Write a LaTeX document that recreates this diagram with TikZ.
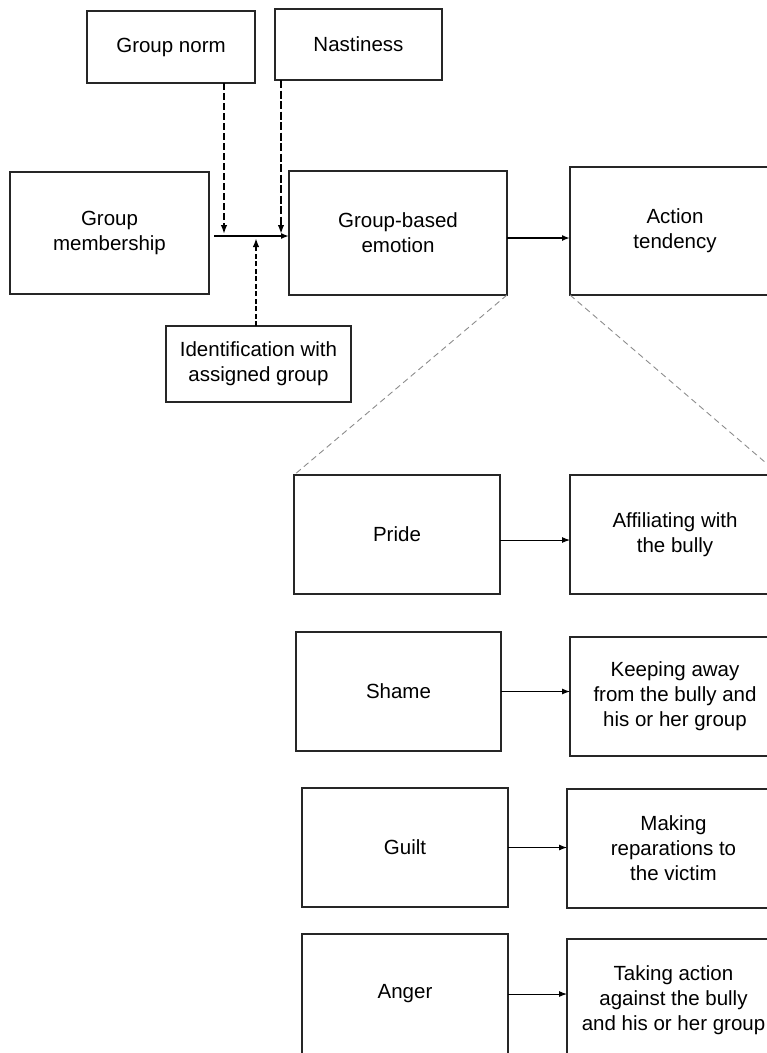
\documentclass[tikz,border=0pt]{standalone}
\usepackage{fontspec}
\setmainfont{Liberation Sans}
\usetikzlibrary{arrows.meta}
\begin{document}
\begin{tikzpicture}[x=1pt,y=-1pt,
  box/.style={draw=black!85, line width=1.1pt, inner sep=0pt, outer sep=0pt, align=center,
    font=\fontsize{20.5}{25}\selectfont},
  arr/.style={-{Latex[length=8pt,width=6pt]}, line width=1pt},
  tarr/.style={-{Latex[length=8pt,width=6pt]}, line width=2pt},
  mod/.style={-{Latex[length=9pt,width=6.5pt]}, line width=1.6pt, dash pattern=on 7pt off 3pt},
  modb/.style={-{Latex[length=9pt,width=6.5pt]}, line width=2.4pt, dash pattern=on 8pt off 2.5pt},
  modc/.style={-{Latex[length=9pt,width=6.5pt]}, line width=2pt, dash pattern=on 5pt off 2.5pt},
  zoomline/.style={draw=black!45, line width=0.9pt, dash pattern=on 6pt off 4pt}]
\useasboundingbox (0,0) rectangle (767,1053);
\clip (0,0) rectangle (767,1053);
% top row
\node[box, minimum width=168, minimum height=72] (gn) at (171,47) {Group norm};
\node[box, minimum width=167, minimum height=71] (na) at (358.5,44.5) {Nastiness};
\node[box, minimum width=199, minimum height=122] (gm) at (109.5,233) {Group\\membership};
\node[box, minimum width=218, minimum height=124] (gbe) at (398,233) {Group-based\\emotion};
\node[box, minimum width=210, minimum height=128] (at) at (675,231) {Action\\tendency};
\node[box, minimum width=185, minimum height=76] (id) at (258.5,364) {Identification with\\assigned group};
% junction
\coordinate (j) at (214,236);
\coordinate (jn) at (224,236);
\coordinate (jt) at (281,236);
\coordinate (ji) at (256,236);
\draw[tarr] (j) -- (j -| gbe.west);
\draw[mod] (gn.south -| jn) -- ([yshift=2pt]jn);
\draw[modb] (na.south -| jt) -- ([yshift=2pt]jt);
\draw[modc] (id.north -| ji) -- ([yshift=-2pt]ji);
\draw[tarr] ([yshift=-5pt]gbe.east) -- ([yshift=-5pt]gbe.east -| at.west);
% emotions
\node[box, minimum width=206, minimum height=119] (pride) at (397,534.5) {Pride};
\node[box, minimum width=210, minimum height=119] (aff) at (675,534.5) {Affiliating with\\the bully};
\node[box, minimum width=205, minimum height=119] (shame) at (398.5,691.5) {Shame};
\node[box, minimum width=210, minimum height=119] (keep) at (675,696.5) {Keeping away\\from the bully and\\his or her group};
\node[box, minimum width=206, minimum height=119] (guilt) at (405,847.5) {Guilt};
\node[box, minimum width=213, minimum height=119] (make) at (673.5,848.5) {Making\\reparations to\\the victim};
\node[box, minimum width=206, minimum height=120] (anger) at (405,994) {Anger};
\node[box, minimum width=213, minimum height=122] (take) at (673.5,1000) {Taking action\\against the bully\\and his or her group};
\draw[arr] ([yshift=-5.5pt]pride.east) -- ([yshift=-5.5pt]pride.east -| aff.west);
\draw[arr] (shame.east) -- (shame.east -| keep.west);
\draw[arr] (guilt.east) -- (guilt.east -| make.west);
\draw[arr] (anger.east) -- (anger.east -| take.west);
% zoom lines
\draw[zoomline] (gbe.south east) -- (pride.north west);
\draw[zoomline] (at.south west) -- (aff.north east);
\end{tikzpicture}
\end{document}
